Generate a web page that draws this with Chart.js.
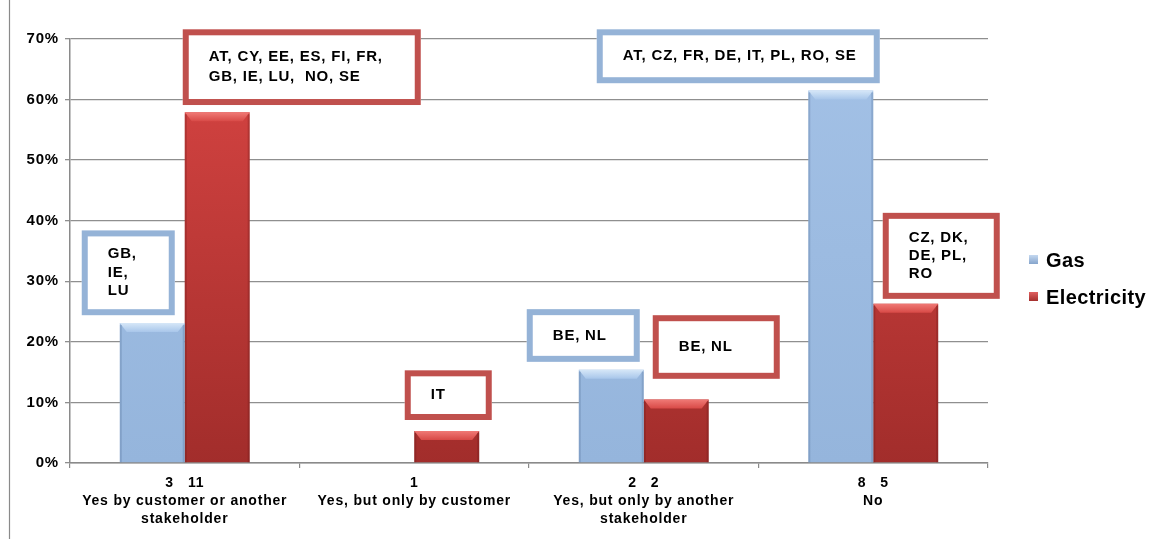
<!DOCTYPE html>
<html>
<head>
<meta charset="utf-8">
<script src="https://cdn.jsdelivr.net/npm/chart.js@4.4.0/dist/chart.umd.min.js"></script>
<style>
  html, body { margin: 0; padding: 0; background: #fff; }
  #wrap { width: 1168px; height: 539px; }
</style>
</head>
<body>
<div id="wrap"><canvas id="chart" width="1168" height="539"></canvas></div>
<script>
// chart data
const categories = [
  ["Yes by customer or another", "stakeholder"],
  ["Yes, but only by customer"],
  ["Yes, but only by another", "stakeholder"],
  ["No"]
];
const gasCounts = ["3", "", "2", "8"];
const elecCounts = ["11", "1", "2", "5"];
const gasShare = [23.1, null, 15.4, 61.5];
const elecShare = [57.9, 5.3, 10.5, 26.3];
const yTicks = [0, 10, 20, 30, 40, 50, 60, 70];

// country boxes: cat index, series, px offsets from category centre, top/bottom in %
const notes = [
  { cat: 0, series: "gas", dx0: -103, dx1: -10, top: 38.4, bottom: 24.4, lh: 18.5, lines: ["GB,", "IE,", "LU"] },
  { cat: 0, series: "elec", dx0: -2, dx1: 236, top: 71.6, bottom: 59.1, lh: 20, lines: ["AT, CY, EE, ES, FI, FR,", "GB, IE, LU,  NO, SE"] },
  { cat: 1, series: "elec", dx0: -9.5, dx1: 77.5, top: 15.3, bottom: 7.1, lh: 18, lines: ["IT"] },
  { cat: 2, series: "gas", dx0: -117, dx1: -4, top: 25.4, bottom: 16.7, lh: 18, lines: ["BE, NL"] },
  { cat: 2, series: "elec", dx0: 9, dx1: 136, top: 24.4, bottom: 13.9, lh: 18, lines: ["BE, NL"] },
  { cat: 3, series: "gas", dx0: -276.5, dx1: 6.5, top: 71.6, bottom: 62.7, lh: 18, lines: ["AT, CZ, FR, DE, IT, PL, RO, SE"] },
  { cat: 3, series: "elec", dx0: 9.5, dx1: 126.5, top: 41.3, bottom: 27.1, lh: 18, lines: ["CZ, DK,", "DE, PL,", "RO"] }
];

const GAS = "#9dbce2";
const ELEC = "#c63c3a";
const boxColors = { gas: "#95b3d7", elec: "#c0504d" };
const FONT = "'Liberation Sans', Arial, sans-serif";

const labels = categories.map((c, i) => {
  const top = gasCounts[i] ? gasCounts[i] + "   " + elecCounts[i] : elecCounts[i];
  return [top].concat(c);
});

function gasFill(ctx) {
  const area = ctx.chart.chartArea;
  if (!area) return GAS;
  const g = ctx.chart.ctx.createLinearGradient(0, area.bottom, 0, area.top);
  g.addColorStop(0, "#95b5dc");
  g.addColorStop(1, "#a3c1e6");
  return g;
}
function elecFill(ctx) {
  const area = ctx.chart.chartArea;
  if (!area) return ELEC;
  const g = ctx.chart.ctx.createLinearGradient(0, area.bottom, 0, area.top);
  g.addColorStop(0, "#a22d2b");
  g.addColorStop(1, "#d84543");
  return g;
}

const frame = {
  id: "frame",
  beforeDraw(chart) {
    const c = chart.ctx;
    c.fillStyle = "#fff";
    c.fillRect(0, 0, chart.width, chart.height);
    c.strokeStyle = "#8a8a8a";
    c.lineWidth = 1.2;
    c.beginPath();
    c.moveTo(9.5, 0);
    c.lineTo(9.5, chart.height);
    c.stroke();
    // wider letters, like the original
    c.letterSpacing = "0.8px";
  }
};

// 3D-ish bevel on top of each bar
const bevel = {
  id: "bevel",
  afterDatasetsDraw(chart) {
    const c = chart.ctx;
    c.save();
    chart.data.datasets.forEach((ds, di) => {
      chart.getDatasetMeta(di).data.forEach((el, i) => {
        if (ds.data[i] == null) return;
        const l = el.x - el.width / 2, r = el.x + el.width / 2, t = el.y, b = el.base;
        const top = di === 0 ? ["#d6e7f8", "#a8c6ea"] : ["#f07a76", "#d84a47"];
        const g = c.createLinearGradient(0, t, 0, t + 9);
        g.addColorStop(0, top[0]);
        g.addColorStop(1, top[1]);
        c.fillStyle = g;
        c.beginPath();
        c.moveTo(l, t);
        c.lineTo(r, t);
        c.lineTo(r - 7, t + 9);
        c.lineTo(l + 7, t + 9);
        c.closePath();
        c.fill();
        c.fillStyle = di === 0 ? "rgba(70,100,140,0.25)" : "rgba(90,20,20,0.25)";
        c.fillRect(l, t + 2, 2, b - t - 2);
        c.fillRect(r - 2, t + 2, 2, b - t - 2);
      });
    });
    c.restore();
  }
};

const countryBoxes = {
  id: "countryBoxes",
  afterDatasetsDraw(chart) {
    const c = chart.ctx;
    const xs = chart.scales.x, ys = chart.scales.y;
    c.save();
    notes.forEach(n => {
      const cx = xs.getPixelForValue(n.cat);
      const x0 = cx + n.dx0, x1 = cx + n.dx1;
      const y0 = ys.getPixelForValue(n.top), y1 = ys.getPixelForValue(n.bottom);
      c.fillStyle = "#fff";
      c.fillRect(x0, y0, x1 - x0, y1 - y0);
      c.strokeStyle = boxColors[n.series];
      c.lineWidth = 6;
      c.strokeRect(x0 + 3, y0 + 3, x1 - x0 - 6, y1 - y0 - 6);
      c.fillStyle = "#000";
      c.font = "bold 15px " + FONT;
      c.letterSpacing = "0.8px";
      c.textBaseline = "middle";
      c.textAlign = "left";
      const mid = (y0 + y1) / 2;
      const start = mid - (n.lines.length - 1) * n.lh / 2;
      n.lines.forEach((t, i) => c.fillText(t, x0 + 26, start + i * n.lh));
    });
    c.restore();
  }
};

const sideLegend = {
  id: "sideLegend",
  afterDraw(chart) {
    const c = chart.ctx;
    c.save();
    chart.data.datasets.forEach((ds, i) => {
      const y = 260 + i * 37;
      const g = c.createLinearGradient(0, y - 5, 0, y + 5);
      g.addColorStop(0, i === 0 ? "#c4d8f0" : "#e06060");
      g.addColorStop(1, i === 0 ? "#7f9fc8" : "#9e2a28");
      c.fillStyle = g;
      c.fillRect(1029, y - 5, 9, 9);
      c.fillStyle = "#000";
      c.font = "bold 20px " + FONT;
      c.letterSpacing = "0.4px";
      c.textBaseline = "middle";
      c.textAlign = "left";
      c.fillText(ds.label, 1046, y + 1);
    });
    c.restore();
  }
};

new Chart(document.getElementById("chart"), {
  type: "bar",
  data: {
    labels: labels,
    datasets: [
      { label: "Gas", data: gasShare, backgroundColor: gasFill, borderWidth: 0 },
      { label: "Electricity", data: elecShare, backgroundColor: elecFill, borderWidth: 0 }
    ]
  },
  options: {
    responsive: false,
    animation: false,
    devicePixelRatio: 1,
    categoryPercentage: 0.566,
    barPercentage: 1,
    layout: { padding: { left: 0, right: 180, top: 39, bottom: 0 } },
    plugins: {
      legend: { display: false },
      tooltip: { enabled: false }
    },
    scales: {
      x: {
        grid: { drawOnChartArea: false, drawTicks: true, tickLength: 5, color: "#8a8a8a", lineWidth: 1.2, offset: true },
        border: { display: true, color: "#8a8a8a", width: 1.5 },
        ticks: {
          color: "#000",
          padding: 6,
          maxRotation: 0,
          autoSkip: false,
          font: { family: FONT, size: 14, weight: "bold", lineHeight: "18px" }
        },
        afterFit(scale) { scale.height = 76; }
      },
      y: {
        min: 0,
        max: 70,
        afterBuildTicks(scale) { scale.ticks = yTicks.map(v => ({ value: v })); },
        grid: { color: "#8f8f8f", lineWidth: 1.3, tickLength: 5 },
        border: { display: true, color: "#8a8a8a", width: 1.5 },
        ticks: {
          color: "#000",
          padding: 6,
          font: { family: FONT, size: 15, weight: "bold" },
          callback: v => v + "%"
        },
        afterFit(scale) { scale.width = 70; }
      }
    }
  },
  plugins: [frame, bevel, countryBoxes, sideLegend]
});
</script>
</body>
</html>
